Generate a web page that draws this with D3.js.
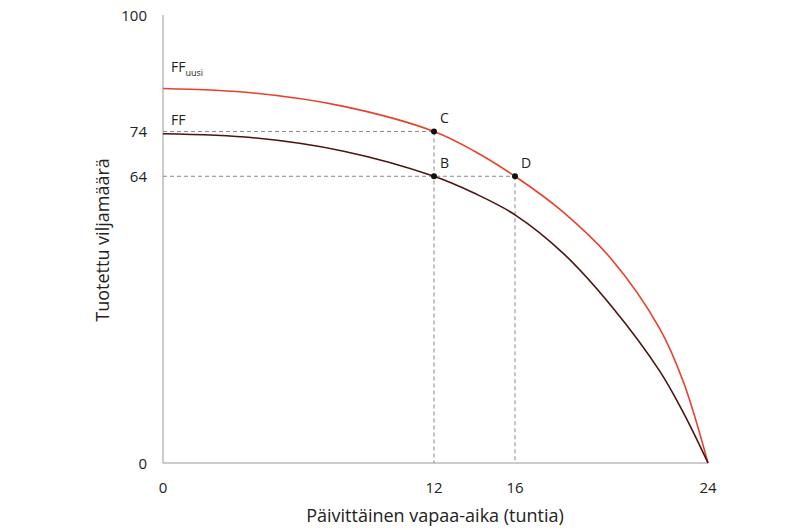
<!DOCTYPE html>
<html><head><meta charset="utf-8">
<script src="https://cdn.jsdelivr.net/npm/d3@7"></script>
<style>body{margin:0;background:#fff}text{font-family:"Open Sans",sans-serif}</style>
</head><body><svg id="c" width="810" height="530"></svg>
<script>
const xTicks=[0,12,16,24];
const yTicks=[0,64,74,100];
const ffX=[0,4,8,12,14,16,18,20,22,23,24];
const ffY=[73.5,72.6,69.6,64,60.2,55.4,46.8,35,20.5,11,0];
const uusiX=[0,4,8,12,14,16,18,20,22,23,24];
const uusiY=[83.6,82.6,79.6,74,69.6,64,56,45.5,30,17.8,0];
const points=[{n:"C",x:12,y:74},{n:"B",x:12,y:64},{n:"D",x:16,y:64}];

const svg=d3.select("#c");
const x=d3.scaleLinear().domain([0,12,16,24]).range([163,434,515,708]);
const y=d3.scaleLinear().domain([0,100]).range([463,15]);
const g=svg.append("g");
g.append("line").attr("x1",163).attr("x2",163).attr("y1",y(100)).attr("y2",y(0)).attr("stroke","#999");
g.append("line").attr("x1",163).attr("x2",x(24)).attr("y1",y(0)).attr("y2",y(0)).attr("stroke","#999");
xTicks.forEach(t=>g.append("text").attr("x",x(t)).attr("y",493).attr("text-anchor","middle").attr("font-size",15).attr("fill","#222").text(t));
yTicks.forEach(t=>g.append("text").attr("x",147).attr("y",y(t)+6).attr("text-anchor","end").attr("font-size",15).attr("fill","#222").text(t));
const dash=[[0,74,12,74],[0,64,16,64],[12,74,12,0],[16,64,16,0]];
dash.forEach(d=>g.append("line").attr("x1",x(d[0])).attr("y1",y(d[1])).attr("x2",x(d[2])).attr("y2",y(d[3])).attr("stroke","#888").attr("stroke-dasharray","4,3"));
const line=d3.line().x(d=>x(d[0])).y(d=>y(d[1])).curve(d3.curveCatmullRom.alpha(0.5));
g.append("path").attr("d",line(d3.zip(uusiX,uusiY))).attr("fill","none").attr("stroke","#e8402a").attr("stroke-width",1.6);
g.append("path").attr("d",line(d3.zip(ffX,ffY))).attr("fill","none").attr("stroke","#4a1410").attr("stroke-width",1.6);
points.forEach(p=>{
 g.append("circle").attr("cx",x(p.x)).attr("cy",y(p.y)).attr("r",3).attr("fill","#111");
 g.append("text").attr("x",x(p.x)+6).attr("y",y(p.y)-8).attr("font-size",14).attr("fill","#222").text(p.n);
});
g.append("text").attr("x",171).attr("y",125).attr("font-size",14).attr("fill","#222").text("FF");
const t=g.append("text").attr("x",171).attr("y",72).attr("font-size",14).attr("fill","#222");
t.append("tspan").text("FF");
t.append("tspan").attr("font-size",9).attr("dy",4).text("uusi");
g.append("text").attr("x",435).attr("y",522).attr("text-anchor","middle").attr("font-size",18).attr("fill","#222").text("Päivittäinen vapaa-aika (tuntia)");
g.append("text").attr("transform","translate(109,240) rotate(-90)").attr("text-anchor","middle").attr("font-size",18).attr("fill","#222").text("Tuotettu viljamäärä");
</script></body></html>
